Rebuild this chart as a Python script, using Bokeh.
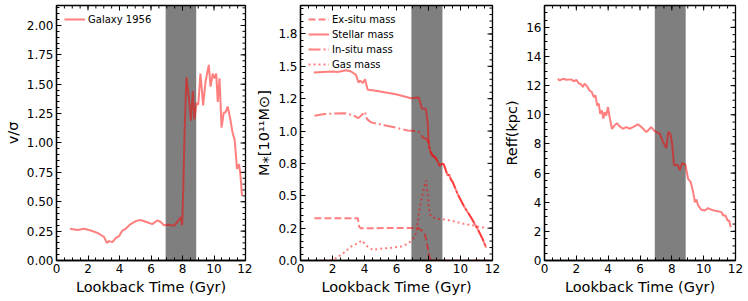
import numpy as np
from math import pi
from bokeh.plotting import figure
from bokeh.layouts import row
from bokeh.models import BoxAnnotation, FixedTicker, Range1d, PrintfTickFormatter
from bokeh.embed import file_html
from bokeh.resources import INLINE

# ---------------- data ----------------
XTICKS = [0, 2, 4, 6, 8, 10, 12]
SHADE = [6.93, 8.87]

# panel 1 : v/sigma
vs_t = [0.86, 1.33, 1.75, 2.17, 2.6, 3.02, 3.2, 3.34, 3.55, 3.76, 3.97, 4.18, 4.39, 4.71,
        5.03, 5.34, 5.76, 6.08, 6.4, 6.61, 6.82, 7.14, 7.45, 7.66, 7.88, 7.98, 8.05, 8.13,
        8.25, 8.41, 8.53, 8.66, 8.76, 8.89, 9.0, 9.14, 9.31, 9.46, 9.67, 9.78, 9.92, 10.03,
        10.14, 10.24, 10.35, 10.48, 10.62, 10.73, 10.87, 11.04, 11.19, 11.31, 11.46, 11.59,
        11.67, 11.78]
vs_v = [0.27, 0.26, 0.27, 0.255, 0.235, 0.2, 0.15, 0.165, 0.156, 0.19, 0.207, 0.255, 0.27,
        0.31, 0.335, 0.345, 0.326, 0.31, 0.34, 0.33, 0.3, 0.305, 0.295, 0.325, 0.37, 0.3,
        0.62, 1.08, 1.56, 1.38, 1.19, 1.44, 1.2, 1.34, 1.325, 1.59, 1.32, 1.52, 1.665, 1.48,
        1.59, 1.55, 1.59, 1.35, 1.55, 1.13, 1.26, 1.26, 1.31, 1.2, 1.08, 1.03, 0.78, 0.82,
        0.74, 0.55]
vs_ticks = [0, 0.25, 0.5, 0.75, 1.0, 1.25, 1.5, 1.75, 2.0]

# panel 2 : masses (1e11 Msun)
exsitu_t = [0.87, 3.58, 3.68, 3.79, 7.32, 7.55, 7.75, 7.85, 7.95, 8.05, 8.15, 9.0, 10.0, 11.0, 11.7]
exsitu_m = [0.326, 0.326, 0.257, 0.249, 0.252, 0.235, 0.205, 0.17, 0.1, 0.03, 0.0, 0.0, 0.0, 0.0, 0.0]

stellar_t = [0.83, 1.39, 2.02, 2.33, 2.85, 3.16, 3.47, 3.62, 3.74, 3.89, 4.03, 4.2, 4.51, 5.24,
             5.97, 6.91, 7.39, 7.59, 7.84, 7.95, 8.01, 8.09, 8.26, 8.42, 8.57, 8.7, 8.82, 8.95,
             9.05, 9.2, 9.3, 9.4, 9.5, 9.82, 10.23, 10.65, 11.07, 11.38, 11.6]
stellar_m = [1.452, 1.457, 1.46, 1.457, 1.47, 1.46, 1.434, 1.375, 1.39, 1.37, 1.40, 1.32, 1.316,
             1.3, 1.285, 1.254, 1.26, 1.174, 1.17, 1.066, 0.912, 0.848, 0.81, 0.797, 0.765,
             0.73, 0.745, 0.745, 0.71, 0.655, 0.665, 0.625, 0.61, 0.514, 0.416, 0.334, 0.244,
             0.167, 0.1]

insitu_t = [0.87, 1.5, 2.12, 2.75, 3.27, 3.62, 3.89, 4.03, 4.16, 4.41, 5.24, 6.0, 6.7, 7.22,
            7.43, 7.64, 7.86, 8.01, 8.09, 8.26, 8.42, 8.57, 8.7, 8.82, 8.95, 9.05, 9.2, 9.3,
            9.4, 9.5, 9.82, 10.23, 10.65, 11.07, 11.38, 11.6]
insitu_m = [1.118, 1.131, 1.136, 1.138, 1.123, 1.1, 1.131, 1.149, 1.092, 1.067, 1.045, 1.025,
            1.005, 1.0, 0.99, 0.95, 0.94, 0.912, 0.848, 0.81, 0.797, 0.765, 0.73, 0.745, 0.745,
            0.71, 0.655, 0.665, 0.625, 0.61, 0.514, 0.416, 0.334, 0.244, 0.167, 0.1]

gas_t = [0.9, 1.5, 2.02, 2.33, 2.75, 3.16, 3.58, 3.85, 4.1, 4.51, 4.93, 5.66, 6.28, 6.7, 7.0,
         7.22, 7.32, 7.48, 7.6, 7.7, 7.8, 7.85, 7.95, 8.05, 8.15, 8.57, 8.78, 9.4, 9.82, 10.23,
         10.86, 11.07, 11.38, 11.6]
gas_m = [0.0, 0.0, 0.005, 0.026, 0.064, 0.108, 0.134, 0.154, 0.116, 0.082, 0.09, 0.098, 0.108,
         0.129, 0.16, 0.21, 0.29, 0.43, 0.5, 0.55, 0.6, 0.62, 0.5, 0.38, 0.34, 0.321, 0.321,
         0.308, 0.295, 0.283, 0.27, 0.262, 0.257, 0.25]
mass_ticks = [0, 0.25, 0.5, 0.75, 1.0, 1.25, 1.5, 1.75]
mass_tick_labels = ["0.0", "0.2", "0.5", "0.8", "1.0", "1.2", "1.5", "1.8"]

# panel 3 : effective radius (kpc)
r_t = [0.84, 0.95, 1.16, 1.37, 1.68, 1.85, 2.0, 2.14, 2.31, 2.41, 2.52, 2.68, 2.83, 2.97, 3.1,
       3.2, 3.31, 3.41, 3.5, 3.61, 3.69, 3.78, 3.88, 3.99, 4.09, 4.24, 4.41, 4.55, 4.72, 4.93,
       5.14, 5.35, 5.56, 5.87, 6.09, 6.4, 6.71, 6.92, 7.24, 7.45, 7.66, 7.77, 7.91, 8.02, 8.14,
       8.35, 8.5, 8.65, 8.85, 9.02, 9.19, 9.34, 9.45, 9.55, 9.65, 9.86, 10.07, 10.28, 10.49,
       10.8, 11.12, 11.22, 11.37, 11.5, 11.6, 11.7]
r_v = [12.47, 12.36, 12.47, 12.4, 12.43, 12.29, 12.4, 12.17, 12.08, 11.9, 12.13, 11.95, 11.67,
       11.56, 11.21, 11.33, 10.64, 10.76, 10.07, 10.3, 9.73, 10.18, 9.95, 10.53, 9.84, 9.04,
       9.27, 9.43, 9.2, 9.04, 9.15, 9.04, 9.15, 9.34, 9.16, 8.81, 9.16, 8.88, 8.7, 8.13, 7.71,
       8.81, 8.7, 8.01, 6.52, 6.59, 6.18, 6.68, 6.59, 5.61, 5.38, 4.69, 4.0, 4.19, 3.78, 3.48,
       3.43, 3.59, 3.48, 3.39, 3.32, 3.09, 3.09, 2.75, 2.75, 2.29]
r_ticks = [0, 2, 4, 6, 8, 10, 12, 14, 16]

# ---------------- style ----------------
FONT = "DejaVu Sans"
RED = "#ff0000"
ALPHA = 0.5
LW = 2
FH = 255
TOP = 5
TICK_FS = "12px"
LAB_FS = "14.5px"


def style_axis(ax):
    ax.axis_line_color = "black"
    ax.axis_line_width = 1.3
    ax.major_tick_in = 5
    ax.major_tick_out = 0
    ax.minor_tick_in = 3
    ax.minor_tick_out = 0
    ax.major_tick_line_color = "black"
    ax.minor_tick_line_color = "black"
    ax.major_label_text_font = FONT
    ax.major_label_text_font_size = TICK_FS
    ax.major_label_text_color = "black"
    ax.major_label_standoff = 3
    ax.axis_label_text_font = FONT
    ax.axis_label_text_font_size = LAB_FS
    ax.axis_label_text_font_style = "normal"
    ax.axis_label_text_color = "black"
    ax.axis_label_standoff = 3


def mirror_ticks(p, ymax, yticks, yminor):
    xminor = list(np.arange(0, 12.01, 0.5))
    kw = dict(length_units="screen", line_color="black", line_width=1)
    # inward ticks on the top edge (pointing down) and right edge (pointing left)
    p.ray(x=XTICKS, y=[ymax] * len(XTICKS), length=5, angle=-pi / 2, **kw)
    p.ray(x=xminor, y=[ymax] * len(xminor), length=3, angle=-pi / 2, **kw)
    p.ray(x=[12] * len(yticks), y=yticks, length=5, angle=pi, **kw)
    p.ray(x=[12] * len(yminor), y=yminor, length=3, angle=pi, **kw)


def make_fig(ymax, yticks, yminor, fw, left, right):
    p = figure(frame_width=fw, frame_height=FH, x_range=Range1d(0, 12),
               y_range=Range1d(0, ymax), output_backend="svg", toolbar_location=None,
               min_border_left=left, min_border_right=right, min_border_top=TOP,
               min_border_bottom=0)
    p.grid.visible = False
    p.outline_line_color = "black"
    p.outline_line_width = 1.3
    p.xaxis.ticker = FixedTicker(ticks=XTICKS, minor_ticks=list(np.arange(0, 12.01, 0.5)))
    p.yaxis.ticker = FixedTicker(ticks=yticks, minor_ticks=yminor)
    style_axis(p.xaxis[0])
    style_axis(p.yaxis[0])
    p.xaxis[0].axis_label = "Lookback Time (Gyr)"
    p.add_layout(BoxAnnotation(left=SHADE[0], right=SHADE[1], fill_color="black",
                               fill_alpha=0.5, line_color=None, level="underlay"))
    mirror_ticks(p, ymax, yticks, yminor)
    return p


def style_legend(p):
    lg = p.legend[0]
    lg.location = "top_left"
    lg.label_text_font = FONT
    lg.label_text_font_size = "10px"
    lg.label_text_color = "black"
    lg.background_fill_alpha = 0
    lg.border_line_alpha = 0
    lg.glyph_width = 21
    lg.glyph_height = 12
    lg.label_height = 12
    lg.spacing = 3
    lg.padding = 4
    lg.margin = 4
    lg.label_standoff = 3


# panel 1
vs_minor = list(np.arange(0, 2.17, 0.05))
p1 = make_fig(2.17, vs_ticks, vs_minor, 189, 56, 7)
p1.line(vs_t, vs_v, line_color=RED, line_alpha=ALPHA, line_width=LW, legend_label="Galaxy 1956")
p1.yaxis[0].formatter = PrintfTickFormatter(format="%.2f")
p1.yaxis[0].axis_label = "v/σ"
style_legend(p1)

# panel 2
m_minor = list(np.arange(0, 1.97, 0.05))
p2 = make_fig(1.97, mass_ticks, m_minor, 192, 48, 8)
p2.line(exsitu_t, exsitu_m, line_color=RED, line_alpha=ALPHA, line_width=LW,
        line_dash="7 3", legend_label="Ex-situ mass")
p2.line(stellar_t, stellar_m, line_color=RED, line_alpha=ALPHA, line_width=LW,
        legend_label="Stellar mass")
p2.line(insitu_t, insitu_m, line_color=RED, line_alpha=ALPHA, line_width=LW,
        line_dash="12 3 2 3", legend_label="In-situ mass")
p2.line(gas_t, gas_m, line_color=RED, line_alpha=ALPHA, line_width=LW,
        line_dash="2 3", legend_label="Gas mass")
p2.yaxis[0].major_label_overrides = {t: l for t, l in zip(mass_ticks, mass_tick_labels)}
p2.yaxis[0].axis_label = "M⁎[10¹¹M⊙]"
style_legend(p2)

# panel 3
r_minor = list(np.arange(0, 17.5, 0.5))
p3 = make_fig(17.5, r_ticks, r_minor, 191, 44, 10)
p3.line(r_t, r_v, line_color=RED, line_alpha=ALPHA, line_width=LW)
p3.yaxis[0].axis_label = "Reff(kpc)"

layout = row(p1, p2, p3)
open("out.html", "w").write(file_html(layout, INLINE))
